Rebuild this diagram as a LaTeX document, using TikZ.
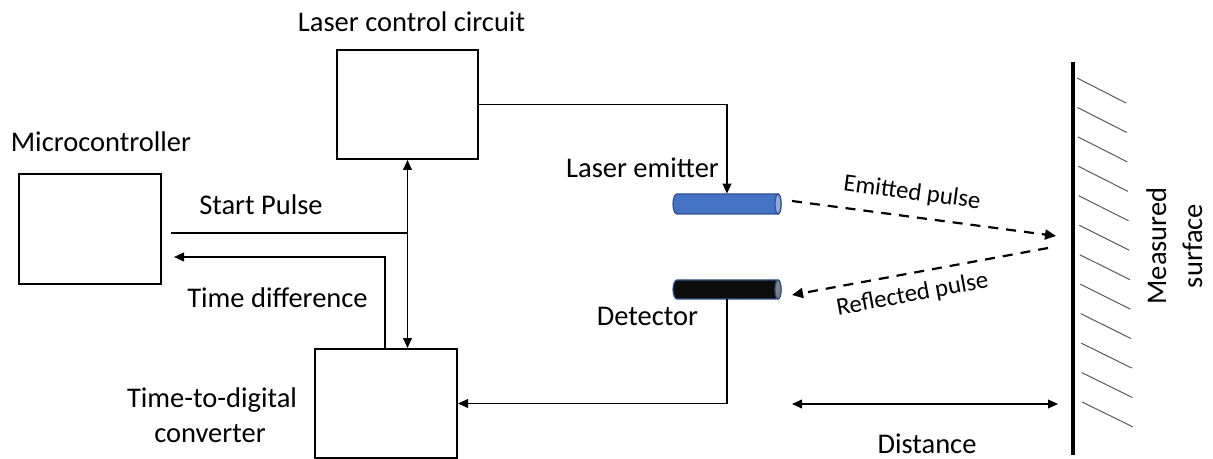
\documentclass[tikz,border=0pt]{standalone}
\usepackage{fontspec}
\setmainfont{Carlito}
\usetikzlibrary{arrows.meta}
\definecolor{emblue}{HTML}{4472C4}
\definecolor{emedge}{HTML}{2F528F}
\definecolor{emcap}{HTML}{8FAADC}
\begin{document}
\begin{tikzpicture}[x=0.5pt,y=-0.5pt,
  box/.style={draw,line width=1pt,minimum width=71pt,minimum height=55pt,inner sep=0pt},
  lbl/.style={font=\fontsize{14.25}{17}\selectfont,inner sep=0pt,anchor=base},
  plbl/.style={font=\fontsize{12.4}{15}\selectfont,inner sep=0pt},
  conn/.style={line width=0.7pt},
  tip/.style={-{Triangle[length=5pt,width=4.4pt]}},
  dtip/.style={{Triangle[length=5pt,width=4.4pt]}-{Triangle[length=5pt,width=4.4pt]}},
  pulse/.style={line width=1.1pt,dash pattern=on 5pt off 4pt,-{Triangle[length=5.5pt,width=5pt]}},
  hatch/.style={line width=0.5pt,gray!70!black}]
\useasboundingbox (0,0) rectangle (1213,459);

% boxes
\node[box] (mc) at (90,229.5) {};
\node[box,minimum width=70.5pt,minimum height=54.5pt] (lc) at (407.5,104.5) {};
\node[box,minimum height=54.5pt] (tdc) at (386,403.5) {};

% emitter and detector (drawn cylinders)
\node[inner sep=0pt,minimum width=54pt,minimum height=10pt] (em) at (727,204) {};
\node[inner sep=0pt,minimum width=54pt,minimum height=9.5pt] (det) at (727,289.5) {};
\draw[emedge,line width=0.6pt,fill=emblue]
  (677,194) -- (778,194) arc[start angle=-90,end angle=90,x radius=3,y radius=10]
  -- (677,214) arc[start angle=90,end angle=270,x radius=4,y radius=10] -- cycle;
\draw[emedge,line width=0.6pt,fill=emcap] (778,204) ellipse[x radius=3,y radius=10];
\draw[emedge,line width=0.6pt,fill=black!95]
  (677,280) -- (778,280) arc[start angle=-90,end angle=90,x radius=3,y radius=9.5]
  -- (677,299) arc[start angle=90,end angle=270,x radius=4,y radius=9.5] -- cycle;
\draw[emedge,line width=0.6pt,fill=gray] (778,289.5) ellipse[x radius=3,y radius=9.5];

% coordinates
\coordinate (sp) at (171,233);
\coordinate (td) at (174,257);
\coordinate (e1) at (792,201);
\coordinate (e2) at (1056,236);
\coordinate (r1) at (1048,248);
\coordinate (r2) at (792,295);
\coordinate (d1) at (792,404);
\coordinate (d2) at (1058,404);
\coordinate (s1) at (1073,62);
\coordinate (s2) at (1073,455);

% connectors
\draw[conn] (sp) -- (sp -| lc.south);
\draw[conn,dtip] (lc.south) -- (tdc.north -| lc.south);
\draw[conn,tip] ([xshift=-0.5pt]tdc.north) |- (td);
\draw[conn,tip] (lc.east) -| (em.north);
\draw[conn,tip] (det.south) |- (tdc.east);
\draw[conn,dtip] (d1) -- (d2);

% pulses
\draw[pulse] (e1) -- (e2);
\draw[pulse] (r1) -- (r2);
\node[plbl,rotate=-7.6] (ept) at (912,193) {Emitted pulse};
\node[plbl,rotate=10.4] (rpt) at (912.5,295) {Reflected pulse};

% measured surface
\draw[line width=2pt] (s1) -- (s2);
\foreach \i in {0,...,11}{
  \draw[hatch] ({1077+5*\i/11},{78+29.45*\i}) -- ({1126+7*\i/11},{103+29.45*\i});
}
\node[lbl,rotate=90] (ms1) at (1166,246) {Measured};
\node[lbl,rotate=90] (ms2) at (1202,246) {surface};

% labels
\node[lbl] (t1) at (411.5,32) {Laser control circuit};
\node[lbl] (t2) at (101,152) {Microcontroller};
\node[lbl] (t3) at (261,215) {Start Pulse};
\node[lbl] (t4) at (277.5,307) {Time difference};
\node[lbl] (t5) at (642.5,178) {Laser emitter};
\node[lbl] (t6) at (647.5,325) {Detector};
\node[lbl] (t7) at (212,407) {Time-to-digital};
\node[lbl] (t8) at (210,442) {converter};
\node[lbl] (t9) at (927,453) {Distance};
\end{tikzpicture}
\end{document}
